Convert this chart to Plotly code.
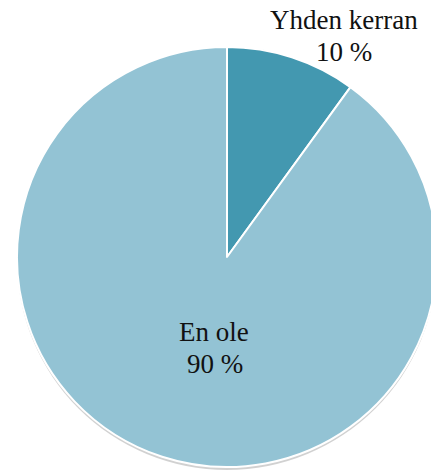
import plotly.graph_objects as go

labels = ["Yhden kerran", "En ole"]
values = [10, 90]
colors = ["#4398B0", "#93C3D4"]

W, H = 441, 472

fig = go.Figure()
# soft drop shadow behind the pie
fig.add_trace(go.Pie(
    labels=["shadow"],
    values=[sum(values)],
    marker=dict(colors=["rgba(0,0,0,0.18)"], line=dict(width=0)),
    textinfo="none",
    hoverinfo="skip",
    domain=dict(x=[17 / W, 437 / W], y=[1 - 470 / H, 1 - 50 / H]),
    showlegend=False,
))
fig.add_trace(go.Pie(
    labels=labels,
    values=values,
    sort=False,
    direction="clockwise",
    rotation=0,
    marker=dict(colors=colors, line=dict(color="white", width=2)),
    textinfo="none",
    hoverinfo="label+percent",
    domain=dict(x=[17 / W, 437 / W], y=[1 - 467 / H, 1 - 47 / H]),
    showlegend=False,
))

font = dict(family="Liberation Serif, Times New Roman, serif", size=27, color="#111111")
# label positions (pixels) for name and value lines
pos = [((344, 19.5), (344, 52.5)), ((214, 331.5), (215, 363.5))]
for lab, val, ((x1, y1), (x2, y2)) in zip(labels, values, pos):
    fig.add_annotation(x=x1 / W, y=1 - y1 / H, xref="paper", yref="paper",
                       text=lab, showarrow=False, font=font,
                       xanchor="center", yanchor="middle")
    fig.add_annotation(x=x2 / W, y=1 - y2 / H, xref="paper", yref="paper",
                       text=f"{val} %", showarrow=False, font=font,
                       xanchor="center", yanchor="middle")

fig.update_layout(
    width=W, height=H,
    margin=dict(l=0, r=0, t=0, b=0),
    paper_bgcolor="white",
    plot_bgcolor="white",
)

fig.write_html("out.html", post_script="document.body.style.overflow='hidden';document.documentElement.style.overflow='hidden';")
